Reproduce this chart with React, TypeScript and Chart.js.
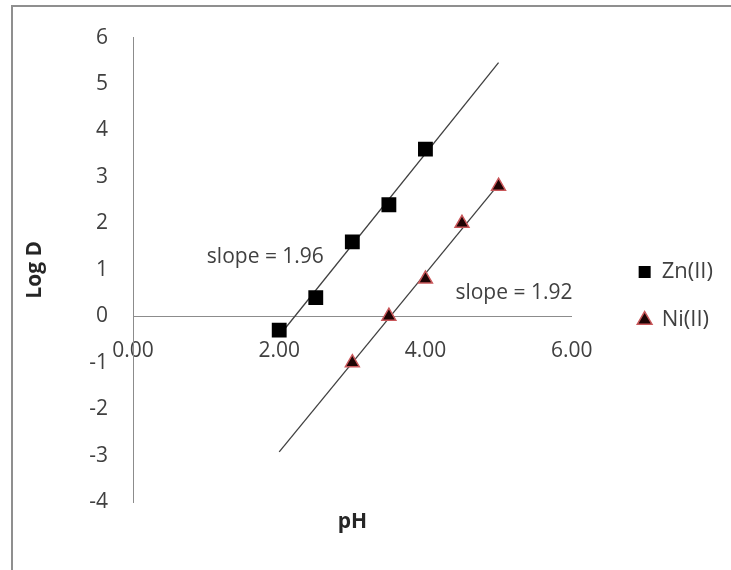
import { useEffect, useRef } from 'react';
import { Chart, registerables } from 'chart.js';

Chart.register(...registerables);

// ---- data ----
const seriesNames = ['Zn(II)', 'Ni(II)'];
const znPH = [2.0, 2.5, 3.0, 3.5, 4.0];
const znLogD = [-0.3, 0.4, 1.6, 2.4, 3.6];
const niPH = [3.0, 3.5, 4.0, 4.5, 5.0];
const niLogD = [-1.0, 0.0, 0.8, 2.0, 2.8];
// trend line end points (as drawn in the reference)
const znTrendPH = [2.0, 5.0];
const znTrendLogD = [-0.42, 5.46];
const niTrendPH = [2.0, 5.0];
const niTrendLogD = [-2.92, 2.84];
// axis ticks
const xTicks = [0, 2, 4, 6];
const yTicks = [-4, -3, -2, -1, 0, 1, 2, 3, 4, 5, 6];
// slope annotations (text and data-space anchor)
const slopeTexts = ['slope = 1.96', 'slope = 1.92'];
const slopePH = [1.01, 4.41];
const slopeLogD = [1.28, 0.51];

const FONT = "'Open Sans', sans-serif";
const TEXT = '#404040';
const AXIS = '#8c8c8c';

const toPoints = (xs: number[], ys: number[]) => xs.map((x, i) => ({ x, y: ys[i] }));

const slopeLabels = {
  id: 'slopeLabels',
  afterDatasetsDraw(chart: any) {
    const { ctx, scales } = chart;
    ctx.save();
    ctx.font = `21px ${FONT}`;
    ctx.fillStyle = TEXT;
    ctx.textAlign = 'left';
    ctx.textBaseline = 'middle';
    slopeTexts.forEach((t, i) => {
      ctx.fillText(t, scales.x.getPixelForValue(slopePH[i]), scales.y.getPixelForValue(slopeLogD[i]));
    });
    ctx.restore();
  },
};

export default function App() {
  const ref = useRef<HTMLCanvasElement>(null);

  useEffect(() => {
    Chart.defaults.font.family = FONT;
    const chart = new Chart(ref.current as HTMLCanvasElement, {
      type: 'scatter',
      data: {
        datasets: [
          {
            label: seriesNames[0],
            data: toPoints(znPH, znLogD),
            pointStyle: 'rect',
            pointRadius: 10.5,
            backgroundColor: '#000000',
            borderColor: '#000000',
            borderWidth: 0,
            order: 0,
            xAxisID: 'x',
            yAxisID: 'y',
          },
          {
            label: seriesNames[1],
            data: toPoints(niPH, niLogD),
            pointStyle: 'triangle',
            pointRadius: 8,
            backgroundColor: '#1e0404',
            borderColor: '#c9575a',
            borderWidth: 1.5,
            order: 0,
            xAxisID: 'x',
            yAxisID: 'y',
          },
          {
            label: 'trendZn',
            data: toPoints(znTrendPH, znTrendLogD),
            showLine: true,
            pointRadius: 0,
            borderColor: '#404040',
            borderWidth: 1.3,
            order: 1,
            xAxisID: 'x',
            yAxisID: 'y',
          },
          {
            label: 'trendNi',
            data: toPoints(niTrendPH, niTrendLogD),
            showLine: true,
            pointRadius: 0,
            borderColor: '#404040',
            borderWidth: 1.3,
            order: 1,
            xAxisID: 'x',
            yAxisID: 'y',
          },
        ],
      },
      options: {
        responsive: false,
        animation: false,
        devicePixelRatio: 1,
        layout: { padding: { top: 33, right: 8, bottom: 11, left: 0 } },
        scales: {
          x: {
            type: 'linear',
            position: { y: 0 } as any,
            min: 0,
            max: 6,
            grid: { display: false, drawTicks: false },
            border: { display: true, color: AXIS, width: 1 },
            ticks: {
              padding: 22,
              color: TEXT,
              font: { size: 21 },
              maxRotation: 0,
              callback: (v: any) => Number(v).toFixed(2),
            },
            afterBuildTicks: (s: any) => {
              s.ticks = xTicks.map((value) => ({ value }));
            },
            afterFit: (s: any) => {
              s.height = 0;
            },
          },
          y: {
            type: 'linear',
            position: 'left',
            min: -4,
            max: 6,
            grid: { display: false, drawTicks: false },
            border: { display: true, color: AXIS, width: 1 },
            ticks: { padding: 25, color: TEXT, font: { size: 21 } },
            afterBuildTicks: (s: any) => {
              s.ticks = yTicks.map((value) => ({ value }));
            },
            title: {
              display: true,
              text: 'Log D',
              color: '#262626',
              font: { size: 21, weight: 'bold' },
              padding: { top: 22, bottom: 0 },
            },
            afterFit: (s: any) => {
              s.width = 133;
            },
          },
          x2: {
            type: 'linear',
            position: 'bottom',
            min: 0,
            max: 6,
            grid: { display: false },
            border: { display: false },
            ticks: { display: false },
            title: {
              display: true,
              text: 'pH',
              color: '#262626',
              font: { size: 21, weight: 'bold' },
              padding: { top: 0, bottom: 24 },
            },
            afterFit: (s: any) => {
              s.height = 57;
            },
          },
          y2: {
            type: 'linear',
            position: 'right',
            grid: { display: false },
            border: { display: false },
            ticks: { display: false },
            afterFit: (s: any) => {
              s.width = 41;
            },
          },
        },
        plugins: {
          legend: {
            position: 'right',
            align: 'center',
            labels: {
              usePointStyle: true,
              boxWidth: 12,
              boxHeight: 12,
              padding: 26,
              color: TEXT,
              font: { size: 22 },
              filter: (item: any) => item.datasetIndex < 2,
            },
          },
          tooltip: { enabled: false },
        },
      },
      plugins: [slopeLabels],
    } as any);
    return () => chart.destroy();
  }, []);

  return (
    <div
      style={{
        position: 'fixed',
        left: 0,
        top: 0,
        width: 731,
        height: 570,
        overflow: 'hidden',
        background: '#ffffff',
      }}
    >
      <div
        style={{
          position: 'absolute',
          left: 11,
          top: 5,
          right: 0,
          bottom: 0,
          borderTop: '2px solid #8f8f8f',
          borderLeft: '2px solid #8f8f8f',
        }}
      />
      <canvas
        ref={ref}
        width={731}
        height={570}
        style={{ position: 'absolute', left: 0, top: 0, width: 731, height: 570 }}
      />
    </div>
  );
}
